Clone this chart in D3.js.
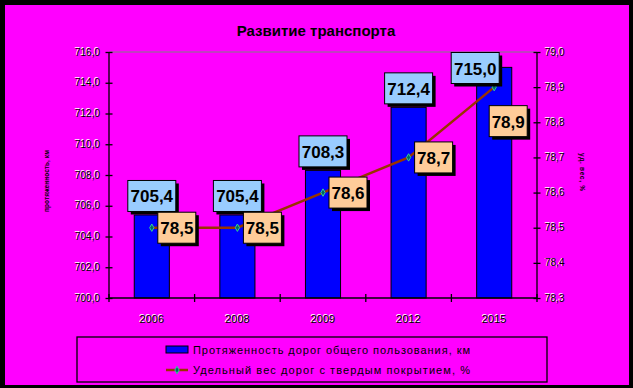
<!DOCTYPE html>
<html>
<head>
<meta charset="utf-8">
<script src="https://cdn.jsdelivr.net/npm/d3@7.9.0/dist/d3.min.js"></script>
<style>
  html, body { margin: 0; padding: 0; background: #000; }
  svg { display: block; font-family: Arial, "Liberation Sans", sans-serif; }
</style>
</head>
<body>
<div id="chart"></div>
<script>
// chart data
const years = ['2006', '2008', '2009', '2012', '2015'];
const roadLength = [705.4, 705.4, 708.3, 712.4, 715.0];
const pavedShare = [78.5, 78.5, 78.6, 78.7, 78.9];
const leftTicks = [700, 702, 704, 706, 708, 710, 712, 714, 716];
const rightTicks = [78.3, 78.4, 78.5, 78.6, 78.7, 78.8, 78.9, 79.0];
const title = 'Развитие транспорта';
const legendLabels = [
  'Протяженность дорог общего пользования, км',
  'Удельный вес дорог с твердым покрытием, %'
];

const width = 633;
const height = 388;
const plot = { left: 109, right: 537, top: 52, bottom: 298 };
const fmt1 = v => d3.format('.1f')(v).replace('.', ',');

const svg = d3.select('#chart')
  .append('svg')
  .attr('width', width)
  .attr('height', height);

// background + black frame
svg.append('rect').attr('width', width).attr('height', height).attr('fill', '#000');
svg.append('rect').attr('x', 5).attr('y', 5).attr('width', 624).attr('height', 380).attr('fill', '#FF00FF');

svg.append('text')
  .attr('x', 316).attr('y', 36)
  .attr('text-anchor', 'middle')
  .attr('font-size', 15).attr('font-weight', 'bold')
  .attr('fill', '#000')
  .text(title);

// scales
const x = d3.scaleBand().domain(years).range([plot.left, plot.right]).padding(0);
const yL = d3.scaleLinear().domain([700, 716]).range([plot.bottom, plot.top]);
const yR = d3.scaleLinear().domain([78.3, 79.0]).range([plot.bottom, plot.top]);

// top border of plot area
svg.append('line')
  .attr('x1', plot.left).attr('x2', plot.right)
  .attr('y1', plot.top).attr('y2', plot.top)
  .attr('stroke', '#808080').attr('stroke-width', 1);

// bars
const barW = x.bandwidth() * 0.41;
svg.append('g')
  .selectAll('rect')
  .data(roadLength)
  .join('rect')
  .attr('x', (d, i) => x(years[i]) + x.bandwidth() / 2 - barW / 2)
  .attr('y', d => yL(d))
  .attr('width', barW)
  .attr('height', d => plot.bottom - yL(d))
  .attr('fill', '#0000FF')
  .attr('stroke', '#000')
  .attr('stroke-width', 1);

// tick label with the light halo look
function tickText(g, px, py, str, anchor, size) {
  g.append('text').attr('x', px - 0.8).attr('y', py - 0.8)
    .attr('text-anchor', anchor).attr('dominant-baseline', 'central')
    .attr('font-size', size).attr('fill', '#fff').text(str);
  g.append('text').attr('x', px).attr('y', py)
    .attr('text-anchor', anchor).attr('dominant-baseline', 'central')
    .attr('font-size', size).attr('fill', '#000').text(str);
}

// left axis
const axL = svg.append('g').attr('transform', `translate(${plot.left},0)`)
  .call(d3.axisLeft(yL).tickValues(leftTicks).tickSize(4).tickFormat(''));
axL.selectAll('.tick line').attr('x2', 3.5).attr('x1', -3.5);
axL.selectAll('line, path').attr('stroke', '#000').attr('stroke-width', 1.3);
axL.select('.domain').attr('d', `M0,${plot.top}V${plot.bottom}`);
leftTicks.forEach(t => tickText(svg, 100, yL(t), fmt1(t), 'end', 10));

// right axis
const axR = svg.append('g').attr('transform', `translate(${plot.right},0)`)
  .call(d3.axisRight(yR).tickValues(rightTicks).tickSize(4).tickFormat(''));
axR.selectAll('.tick line').attr('x1', -3.5).attr('x2', 3.5);
axR.selectAll('line, path').attr('stroke', '#000').attr('stroke-width', 1.3);
axR.select('.domain').attr('d', `M0,${plot.top}V${plot.bottom}`);
rightTicks.forEach(t => tickText(svg, 545, yR(t), fmt1(t), 'start', 10));

// bottom axis
const axB = svg.append('g').attr('transform', `translate(0,${plot.bottom})`)
  .call(d3.axisBottom(x).tickSize(0).tickFormat(''));
axB.select('.domain').attr('d', `M${plot.left},0H${plot.right}`)
  .attr('stroke', '#000').attr('stroke-width', 1.3);
const bounds = [plot.left].concat(years.map(y => x(y) + x.bandwidth()));
axB.selectAll('.sep').data(bounds).join('line')
  .attr('x1', d => d).attr('x2', d => d).attr('y1', -4).attr('y2', 4)
  .attr('stroke', '#000').attr('stroke-width', 1.3);
years.forEach(y => tickText(svg, x(y) + x.bandwidth() / 2, 319, y, 'middle', 11));

// axis titles (tiny)
svg.append('text')
  .attr('transform', 'translate(46,181) rotate(-90)')
  .attr('text-anchor', 'middle').attr('dominant-baseline', 'central')
  .attr('font-size', 6.5).attr('font-weight', 'bold').attr('fill', '#000')
  .attr('textLength', 62).attr('lengthAdjust', 'spacing')
  .text('протяженность, км');
svg.append('text')
  .attr('transform', 'translate(582,172) rotate(90)')
  .attr('text-anchor', 'middle').attr('dominant-baseline', 'central')
  .attr('font-size', 6.5).attr('font-weight', 'bold').attr('fill', '#000')
  .attr('textLength', 38).attr('lengthAdjust', 'spacing')
  .text('уд. вес, %');

// line series
const cx = i => x(years[i]) + x.bandwidth() / 2;
const line = d3.line().x((d, i) => cx(i)).y(d => yR(d));
svg.append('path')
  .datum(pavedShare)
  .attr('d', line)
  .attr('fill', 'none')
  .attr('stroke', '#993300')
  .attr('stroke-width', 2.5);
svg.append('g').selectAll('path')
  .data(pavedShare)
  .join('path')
  .attr('transform', (d, i) => `translate(${cx(i)},${yR(d)})`)
  .attr('d', d3.symbol(d3.symbolDiamond, 16))
  .attr('fill', '#006666')
  .attr('stroke', '#33CC99')
  .attr('stroke-width', 1);

// data label box with drop shadow
function labelBox(cxp, cyp, w, h, str, fill) {
  const g = svg.append('g');
  g.append('rect').attr('x', cxp - w / 2 + 3).attr('y', cyp - h / 2 + 3)
    .attr('width', w).attr('height', h).attr('fill', '#000');
  g.append('rect').attr('x', cxp - w / 2).attr('y', cyp - h / 2)
    .attr('width', w).attr('height', h)
    .attr('fill', fill).attr('stroke', '#000').attr('stroke-width', 1);
  g.append('text').attr('x', cxp).attr('y', cyp + 1)
    .attr('text-anchor', 'middle').attr('dominant-baseline', 'central')
    .attr('font-size', 17).attr('font-weight', 'bold').attr('fill', '#000')
    .text(str);
}

// bar labels sit above the bar; the tallest one is pushed up/left to stay inside
roadLength.forEach((v, i) => {
  let bx = cx(i);
  let by = yL(v) - 19;
  if (by - 15 < plot.top) { by = plot.top + 16; bx -= 19; }
  labelBox(bx, by, 48, 31, fmt1(v), '#99CCFF');
});

// line labels sit to the right of the point; the last one drops below
pavedShare.forEach((v, i) => {
  let bx = cx(i) + 25;
  let by = yR(v);
  if (i === pavedShare.length - 1) { bx = cx(i) + 14; by = yR(v) + 34; }
  labelBox(bx, by, 38, 31, fmt1(v), '#FFCC99');
});

// legend
const lg = svg.append('g');
lg.append('rect')
  .attr('x', 77).attr('y', 337).attr('width', 470).attr('height', 45)
  .attr('fill', 'none').attr('stroke', '#000').attr('stroke-width', 1.3);
lg.append('rect')
  .attr('x', 166).attr('y', 346).attr('width', 22).attr('height', 7)
  .attr('fill', '#0000FF').attr('stroke', '#000').attr('stroke-width', 1);
lg.append('line')
  .attr('x1', 166).attr('x2', 188).attr('y1', 370).attr('y2', 370)
  .attr('stroke', '#993300').attr('stroke-width', 2.5);
lg.append('path')
  .attr('transform', 'translate(177,370)')
  .attr('d', d3.symbol(d3.symbolDiamond, 16))
  .attr('fill', '#006666').attr('stroke', '#33CC99').attr('stroke-width', 1);
legendLabels.forEach((t, i) => {
  lg.append('text')
    .attr('x', 193).attr('y', 350 + i * 20)
    .attr('dominant-baseline', 'central')
    .attr('font-size', 11).attr('fill', '#000')
    .attr('textLength', 277).attr('lengthAdjust', 'spacing')
    .text(t);
});
</script>
</body>
</html>
